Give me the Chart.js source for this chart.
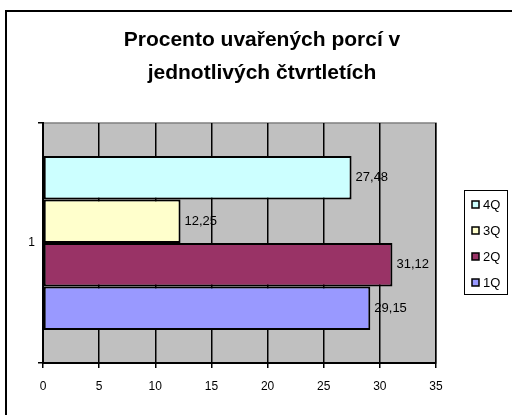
<!DOCTYPE html>
<html>
<head>
<meta charset="utf-8">
<title>Procento uvařených porcí</title>
<script src="https://cdn.jsdelivr.net/npm/chart.js@4.4.1/dist/chart.umd.min.js"></script>
<style>
  html, body { margin: 0; padding: 0; background: #fff; }
  #wrap { width: 512px; height: 415px; }
</style>
</head>
<body>
<div id="wrap"><canvas id="chart" width="512" height="415"></canvas></div>
<script>
// data
var categories = ['1'];
var seriesNames = ['4Q', '3Q', '2Q', '1Q'];
var q4 = [27.48];
var q3 = [12.25];
var q2 = [31.12];
var q1 = [29.15];
var titleLines = ['Procento uvařených porcí v', 'jednotlivých čtvrtletích'];
var xMin = 0, xMax = 35, xStep = 5;

var FONT = '"Liberation Sans", Arial, sans-serif';
var colors = ['#ccffff', '#ffffcc', '#993366', '#9999ff'];
var seriesValues = [q4, q3, q2, q1];

// frame, grey plot area, title, value labels and boxed legend
var excelLook = {
  id: 'excelLook',
  beforeDraw: function(chart) {
    var ctx = chart.ctx, a = chart.chartArea;
    ctx.save();
    ctx.fillStyle = '#fff';
    ctx.fillRect(0, 0, chart.width, chart.height);
    ctx.fillStyle = '#000';
    ctx.fillRect(5, 10, chart.width, 2);
    ctx.fillRect(5, 10, 2, chart.height);
    ctx.fillStyle = '#c0c0c0';
    ctx.fillRect(a.left, a.top, a.right - a.left, a.bottom - a.top);
    ctx.strokeStyle = '#808080';
    ctx.lineWidth = 1.5;
    ctx.strokeRect(a.left, a.top, a.right - a.left, a.bottom - a.top);
    // title
    ctx.fillStyle = '#000';
    ctx.font = 'bold 21px ' + FONT;
    ctx.textAlign = 'center';
    ctx.textBaseline = 'middle';
    ctx.fillText(titleLines[0], 262, 40);
    ctx.fillText(titleLines[1], 262, 73);
    ctx.restore();
  },
  afterDatasetsDraw: function(chart) {
    var ctx = chart.ctx;
    ctx.save();
    ctx.font = '13px ' + FONT;
    ctx.fillStyle = '#000';
    ctx.textAlign = 'left';
    ctx.textBaseline = 'middle';
    chart.data.datasets.forEach(function(ds, i) {
      chart.getDatasetMeta(i).data.forEach(function(bar, j) {
        var txt = ds.data[j].toFixed(2).replace('.', ',');
        ctx.fillText(txt, bar.x + 4, bar.y);
      });
    });
    // legend
    var lx = 464, ly = 190, lw = 43, lh = 104;
    ctx.strokeStyle = '#000';
    ctx.lineWidth = 1;
    ctx.strokeRect(lx + 0.5, ly + 0.5, lw, lh);
    chart.data.datasets.forEach(function(ds, i) {
      var cy = 205 + i * 26;
      ctx.fillStyle = ds.backgroundColor;
      ctx.fillRect(472, cy - 4, 7, 7);
      ctx.strokeStyle = '#000';
      ctx.lineWidth = 1.5;
      ctx.strokeRect(472, cy - 4, 7, 7);
      ctx.fillStyle = '#000';
      ctx.fillText(ds.label, 483, cy);
    });
    ctx.restore();
  }
};

var datasets = seriesNames.map(function(name, i) {
  return {
    label: name,
    data: seriesValues[i],
    backgroundColor: colors[i],
    borderColor: '#000',
    borderWidth: 2,
    borderSkipped: false,
    categoryPercentage: 0.725,
    barPercentage: 1
  };
});

new Chart(document.getElementById('chart'), {
  type: 'bar',
  data: { labels: categories, datasets: datasets },
  options: {
    indexAxis: 'y',
    responsive: false,
    animation: false,
    layout: { padding: { left: 5, right: 76, top: 123, bottom: 12 } },
    plugins: {
      legend: { display: false },
      title: { display: false },
      tooltip: { enabled: false }
    },
    scales: {
      x: {
        min: xMin,
        max: xMax,
        ticks: { stepSize: xStep, color: '#000', padding: 11, font: { family: FONT, size: 12 } },
        grid: { color: '#000', lineWidth: 1.5, tickLength: 5, tickColor: '#000' },
        border: { color: '#000', width: 2 },
        afterFit: function(s) { s.height = 40; }
      },
      y: {
        ticks: { color: '#000', padding: 3, font: { family: FONT, size: 12 } },
        grid: { offset: true, drawOnChartArea: false, tickLength: 5, color: '#000', lineWidth: 1.5 },
        border: { color: '#000', width: 2 },
        afterFit: function(s) { s.width = 38; }
      }
    }
  },
  plugins: [excelLook]
});
</script>
</body>
</html>
